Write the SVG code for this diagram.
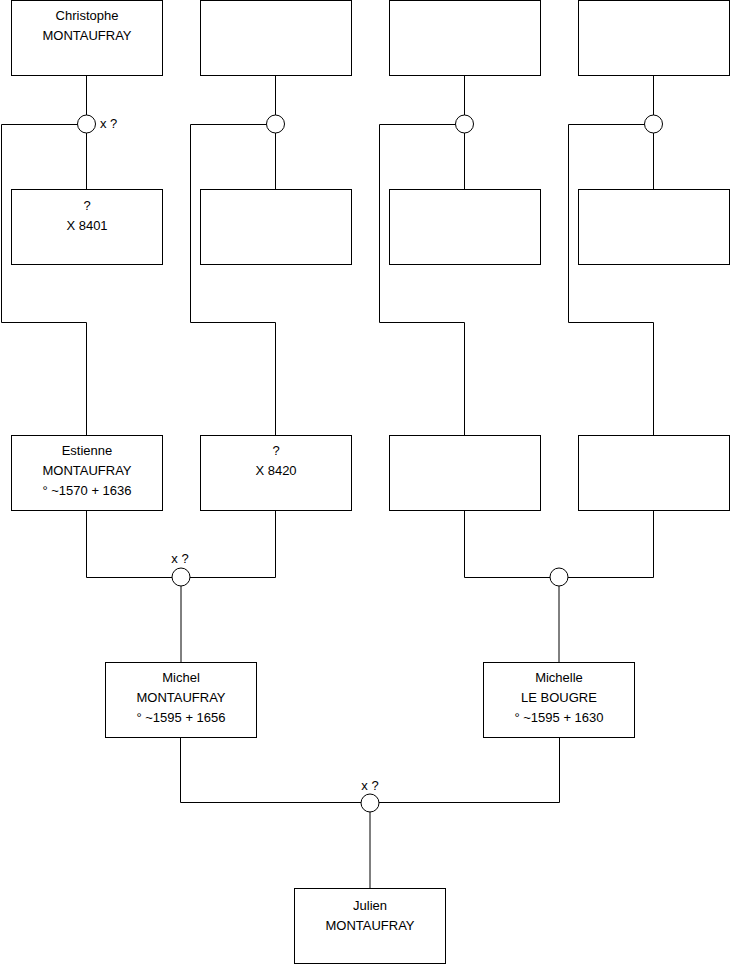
<svg xmlns="http://www.w3.org/2000/svg" width="740" height="975" viewBox="0 0 740 975">
<style>
.box{fill:#fff;stroke:#000;stroke-width:1}
.c{fill:#fff;stroke:#000;stroke-width:1}
.l{fill:none;stroke:#000;stroke-width:1}
text{font-family:"Liberation Sans",Arial,sans-serif;font-size:13px;fill:#000;text-anchor:middle}
</style>
<rect width="740" height="975" fill="#fff"/>
<g id="connectors">
<path class="l" d="M86.5 75.5V115M86.5 133V189.5M77.5 124.5H1.5V322.5H86.5V435.5"/>
<path class="l" d="M275.5 75.5V115M275.5 133V189.5M266.5 124.5H190.5V322.5H275.5V435.5"/>
<path class="l" d="M464.5 75.5V115M464.5 133V189.5M455.5 124.5H379.5V322.5H464.5V435.5"/>
<path class="l" d="M653.5 75.5V115M653.5 133V189.5M644.5 124.5H568.5V322.5H653.5V435.5"/>
<path class="l" d="M86.5 510.5V577.5H172M190 577.5H275.5V510.5M181 586V662.5"/>
<path class="l" d="M464.5 510.5V577.5H550M568 577.5H653.5V510.5M559 586V662.5"/>
<path class="l" d="M180.5 737.5V802.5H361M379 802.5H559.5V737.5M370 811V888.5"/>
</g>
<g id="n1"><rect class="box" x="11.5" y="0.5" width="151" height="75"/><text x="87" y="20">Christophe</text><text x="87" y="40">MONTAUFRAY</text></g>
<g id="n2"><rect class="box" x="200.5" y="0.5" width="151" height="75"/></g>
<g id="n3"><rect class="box" x="389.5" y="0.5" width="151" height="75"/></g>
<g id="n4"><rect class="box" x="578.5" y="0.5" width="151" height="75"/></g>
<g id="u1"><circle class="c" cx="86.5" cy="124" r="9"/><text x="100" y="128" style="text-anchor:start">x ?</text></g>
<g id="u2"><circle class="c" cx="275.5" cy="124" r="9"/></g>
<g id="u3"><circle class="c" cx="464.5" cy="124" r="9"/></g>
<g id="u4"><circle class="c" cx="653.5" cy="124" r="9"/></g>
<g id="n5"><rect class="box" x="11.5" y="189.5" width="151" height="75"/><text x="87" y="210">?</text><text x="87" y="230">X 8401</text></g>
<g id="n6"><rect class="box" x="200.5" y="189.5" width="151" height="75"/></g>
<g id="n7"><rect class="box" x="389.5" y="189.5" width="151" height="75"/></g>
<g id="n8"><rect class="box" x="578.5" y="189.5" width="151" height="75"/></g>
<g id="n9"><rect class="box" x="11.5" y="435.5" width="151" height="75"/><text x="87" y="455">Estienne</text><text x="87" y="475">MONTAUFRAY</text><text x="87" y="495">° ~1570 + 1636</text></g>
<g id="n10"><rect class="box" x="200.5" y="435.5" width="151" height="75"/><text x="276" y="455">?</text><text x="276" y="475">X 8420</text></g>
<g id="n11"><rect class="box" x="389.5" y="435.5" width="151" height="75"/></g>
<g id="n12"><rect class="box" x="578.5" y="435.5" width="151" height="75"/></g>
<g id="u5"><circle class="c" cx="181" cy="577" r="9"/><text x="180" y="563">x ?</text></g>
<g id="u6"><circle class="c" cx="559" cy="577" r="9"/></g>
<g id="n13"><rect class="box" x="105.5" y="662.5" width="151" height="75"/><text x="181" y="682">Michel</text><text x="181" y="702">MONTAUFRAY</text><text x="181" y="722">° ~1595 + 1656</text></g>
<g id="n14"><rect class="box" x="483.5" y="662.5" width="151" height="75"/><text x="559" y="682">Michelle</text><text x="559" y="702">LE BOUGRE</text><text x="559" y="722">° ~1595 + 1630</text></g>
<g id="u7"><circle class="c" cx="370" cy="803" r="9"/><text x="370" y="790">x ?</text></g>
<g id="n15"><rect class="box" x="294.5" y="888.5" width="151" height="75"/><text x="370" y="910">Julien</text><text x="370" y="930">MONTAUFRAY</text></g>
</svg>
